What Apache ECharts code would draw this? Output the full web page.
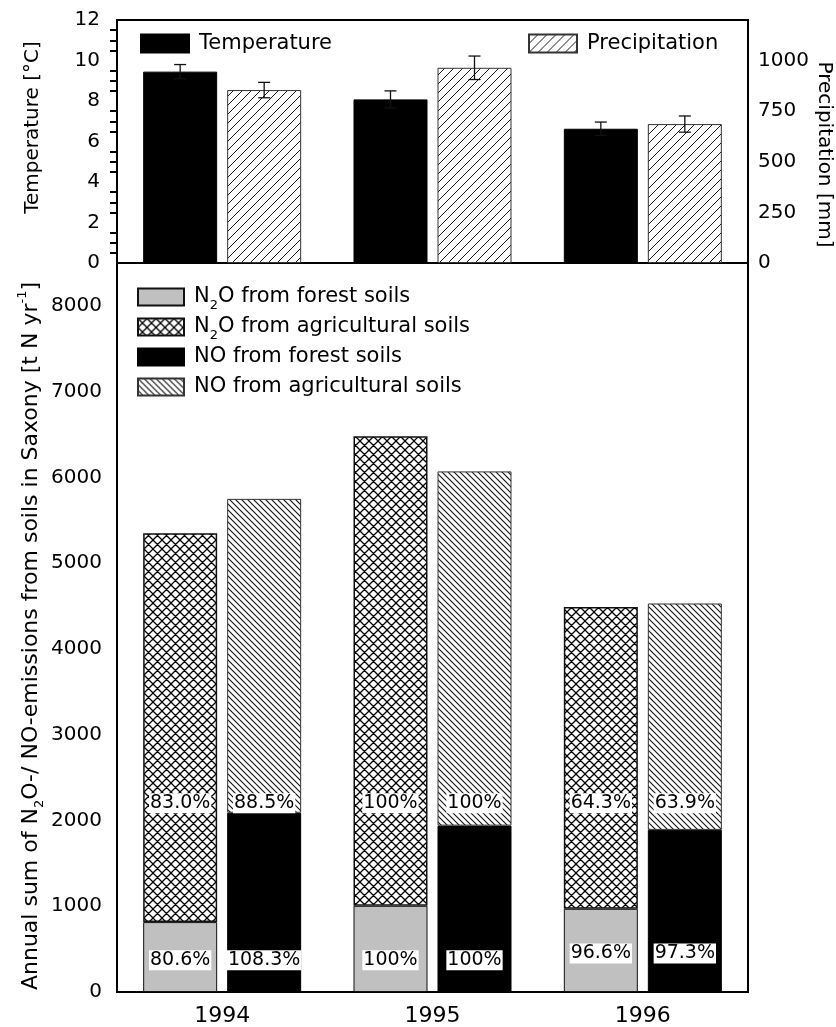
<!DOCTYPE html>
<html>
<head>
<meta charset="utf-8">
<script src="https://cdn.jsdelivr.net/npm/echarts@6/dist/echarts.min.js"></script>
<style>
  html, body { margin: 0; padding: 0; background: #fff; }
  #chart { width: 836px; height: 1027px; }
</style>
</head>
<body>
<div id="chart"></div>
<script>
// ---- data -------------------------------------------------------------
const years = ['1994', '1995', '1996'];

// annual means (climate panel)
const temperature = [9.45, 8.08, 6.63];          // °C
const temperatureErr = [0.35, 0.42, 0.33];
const precipitation = [854, 964, 686];           // mm
const precipitationErr = [38, 58, 40];

// annual emissions, t N per year (stacked segments)
const n2oForest = [815, 1005, 970];
const n2oAgri = [4535, 5475, 3520];
const noForest = [2090, 1940, 1890];
const noAgri = [3660, 4130, 2640];

// percentages printed on the segments
const pctN2oForest = ['80.6%', '100%', '96.6%'];
const pctNoForest = ['108.3%', '100%', '97.3%'];
const pctN2oAgri = ['83.0%', '100%', '64.3%'];
const pctNoAgri = ['88.5%', '100%', '63.9%'];

// ---- layout & style ---------------------------------------------------
const FONT = 'DejaVu Sans';
const BAR_W = 74;
const BAR_GAP = 10;
const SHIFT = (BAR_W + BAR_GAP) / 2;            // bar centre offset from category centre
const LOWER_LEVEL = [370, 370, 450];            // where the lower percentage boxes sit
const UPPER_LEVEL = 2200;                       // where the upper percentage boxes sit
const INK = '#000';

function hatch(step, dirs, lw, stroke) {
  const c = document.createElement('canvas');
  c.width = c.height = step;
  const g = c.getContext('2d');
  g.fillStyle = '#fff';
  g.fillRect(0, 0, step, step);
  g.strokeStyle = stroke;
  g.lineWidth = lw;
  g.beginPath();
  dirs.forEach(d => {
    [-step, 0, step].forEach(o => {
      if (d === '/') { g.moveTo(o - 1, step + 1); g.lineTo(o + step + 1, -1); }
      else { g.moveTo(o - 1, -1); g.lineTo(o + step + 1, step + 1); }
    });
  });
  g.stroke();
  return { image: c, repeat: 'repeat' };
}

const fwdHatch = hatch(9, ['/'], 1, '#1a1a1a');
const crossHatch = hatch(9, ['/', '\\'], 1.3, '#000');
const backHatch = hatch(6, ['\\'], 1.1, '#111');

const sub = { fontSize: 13, lineHeight: 13, verticalAlign: 'bottom', fontFamily: FONT, color: INK };
const sup = { fontSize: 13, lineHeight: 13, verticalAlign: 'top', fontFamily: FONT, color: INK };

function errorBars(vals, errs, yAxisIndex, side) {
  return {
    type: 'custom', xAxisIndex: 0, yAxisIndex, z: 10, silent: true,
    encode: { x: 0, y: [1, 2] },
    data: vals.map((v, i) => [i, v - errs[i], v + errs[i]]),
    renderItem(params, api) {
      const lo = api.coord([api.value(0), api.value(1)]);
      const hi = api.coord([api.value(0), api.value(2)]);
      const x = lo[0] + side * SHIFT;
      const cap = 6;
      const st = { stroke: '#111', lineWidth: 1.3 };
      return {
        type: 'group', children: [
          { type: 'line', shape: { x1: x, y1: lo[1], x2: x, y2: hi[1] }, style: st },
          { type: 'line', shape: { x1: x - cap, y1: hi[1], x2: x + cap, y2: hi[1] }, style: st },
          { type: 'line', shape: { x1: x - cap, y1: lo[1], x2: x + cap, y2: lo[1] }, style: st }
        ]
      };
    }
  };
}

// percentage boxes: one per segment
const pctBoxes = [];
years.forEach((y, i) => {
  pctBoxes.push({ cat: i, side: -1, level: LOWER_LEVEL[i], text: pctN2oForest[i] });
  pctBoxes.push({ cat: i, side: 1, level: LOWER_LEVEL[i], text: pctNoForest[i] });
  pctBoxes.push({ cat: i, side: -1, level: UPPER_LEVEL, text: pctN2oAgri[i] });
  pctBoxes.push({ cat: i, side: 1, level: UPPER_LEVEL, text: pctNoAgri[i] });
});

const tickLine = { color: INK, width: 2 };
const axisLine = { show: true, lineStyle: { color: INK, width: 2 } };
const tickLabel = { color: INK, fontSize: 20, fontFamily: FONT };
const barGap = (BAR_GAP / BAR_W * 100) + '%';

const option = {
  animation: false,
  backgroundColor: '#fff',
  grid: [
    { left: 117, right: 88, top: 20, height: 243, containLabel: false, outerBoundsMode: 'none',
      show: true, borderColor: INK, borderWidth: 2 },
    { left: 117, right: 88, top: 263, height: 729, containLabel: false, outerBoundsMode: 'none',
      show: true, borderColor: INK, borderWidth: 2 }
  ],
  legend: [
    {
      data: ['Temperature'], left: 140, top: 33, padding: 0, icon: 'rect',
      itemWidth: 48, itemHeight: 18, selectedMode: false,
      textStyle: { fontSize: 21, fontFamily: FONT, color: INK, padding: [0, 0, 0, 5] }
    },
    {
      data: ['Precipitation'], left: 528, top: 33, padding: 0, icon: 'rect',
      itemWidth: 48, itemHeight: 18, selectedMode: false,
      textStyle: { fontSize: 21, fontFamily: FONT, color: INK, padding: [0, 0, 0, 5] }
    },
    {
      data: ['N2O from forest soils', 'N2O from agricultural soils', 'NO from forest soils', 'NO from agricultural soils'],
      orient: 'vertical', left: 137, top: 282, padding: 0, icon: 'rect',
      itemWidth: 46, itemHeight: 17, itemGap: 0, selectedMode: false,
      formatter: name => name.replace('N2O', 'N{sub|2}O'),
      textStyle: {
        fontSize: 21, fontFamily: FONT, color: INK, lineHeight: 30, padding: [0, 0, 0, 5],
        rich: { sub }
      }
    }
  ],
  xAxis: [
    { type: 'category', gridIndex: 0, data: years, axisLine, axisTick: { show: false }, axisLabel: { show: false } },
    {
      type: 'category', gridIndex: 1, data: years, axisLine, axisTick: { show: false },
      axisLabel: { color: INK, fontSize: 22, fontFamily: FONT, margin: 13 }
    }
  ],
  yAxis: [
    { // 0: temperature
      type: 'value', gridIndex: 0, position: 'left', min: 0, max: 12, interval: 2,
      axisLine, splitLine: { show: false },
      axisTick: { length: 12, lineStyle: tickLine },
      minorTick: { show: true, splitNumber: 4, length: 7, lineStyle: tickLine },
      axisLabel: Object.assign({ margin: 17 }, tickLabel),
      name: 'Temperature [°C]', nameLocation: 'middle', nameRotate: 90, nameGap: 74,
      nameMoveOverlap: false,
      nameTextStyle: { fontSize: 20, fontFamily: FONT, color: INK, padding: [0, 0, 0, 28] }
    },
    { // 1: precipitation, labelled ticks
      type: 'value', gridIndex: 0, position: 'right', min: 0, max: 1200, interval: 250,
      axisLine, splitLine: { show: false },
      axisTick: { inside: true, length: 12, lineStyle: tickLine },
      axisLabel: Object.assign({ margin: 10, formatter: v => (v % 250 === 0 ? String(v) : '') }, tickLabel),
      name: 'Precipitation [mm]', nameLocation: 'middle', nameRotate: -90, nameGap: 66,
      nameMoveOverlap: false,
      nameTextStyle: { fontSize: 20, fontFamily: FONT, color: INK, padding: [0, 0, 0, 26] }
    },
    { // 2: precipitation, fine ticks
      type: 'value', gridIndex: 0, position: 'right', min: 0, max: 1200, interval: 50,
      axisLine: { show: false }, splitLine: { show: false }, axisLabel: { show: false },
      axisTick: { inside: true, length: 7, lineStyle: tickLine }
    },
    { // 3: emissions, left
      type: 'value', gridIndex: 1, position: 'left', min: 0, max: 8500, interval: 1000,
      axisLine, splitLine: { show: false },
      axisTick: { length: 12, lineStyle: tickLine },
      axisLabel: Object.assign({ margin: 15, formatter: v => (v % 1000 === 0 ? String(v) : '') }, tickLabel),
      name: 'Annual sum of N{sub|2}O-/ NO-emissions from soils in Saxony [t N yr{sup|-1}]',
      nameLocation: 'middle', nameRotate: 90, nameGap: 71, nameMoveOverlap: false,
      nameTextStyle: {
        fontSize: 22, fontFamily: FONT, color: INK, lineHeight: 30, padding: [0, 17, 0, 0],
        rich: { sub, sup }
      }
    },
    { // 4: emissions, left fine ticks
      type: 'value', gridIndex: 1, position: 'left', min: 0, max: 8500, interval: 250,
      axisLine: { show: false }, splitLine: { show: false }, axisLabel: { show: false },
      axisTick: { length: 7, lineStyle: tickLine }
    },
    { // 5: emissions, right mirror
      type: 'value', gridIndex: 1, position: 'right', min: 0, max: 8500, interval: 1000,
      axisLine, splitLine: { show: false }, axisLabel: { show: false },
      axisTick: { inside: true, length: 12, lineStyle: tickLine }
    },
    { // 6: emissions, right fine ticks
      type: 'value', gridIndex: 1, position: 'right', min: 0, max: 8500, interval: 250,
      axisLine: { show: false }, splitLine: { show: false }, axisLabel: { show: false },
      axisTick: { inside: true, length: 7, lineStyle: tickLine }
    }
  ],
  series: [
    {
      name: 'Temperature', type: 'bar', xAxisIndex: 0, yAxisIndex: 0, data: temperature,
      barWidth: BAR_W, barGap,
      itemStyle: { color: '#000', borderColor: '#000', borderWidth: 1 }
    },
    {
      name: 'Precipitation', type: 'bar', xAxisIndex: 0, yAxisIndex: 1, data: precipitation,
      barWidth: BAR_W, barGap,
      itemStyle: { color: fwdHatch, borderColor: '#333', borderWidth: 1 }
    },
    errorBars(temperature, temperatureErr, 0, -1),
    errorBars(precipitation, precipitationErr, 1, 1),
    {
      name: 'N2O from forest soils', type: 'bar', stack: 'n2o', xAxisIndex: 1, yAxisIndex: 3,
      data: n2oForest, barWidth: BAR_W, barGap,
      itemStyle: { color: '#c0c0c0', borderColor: '#111', borderWidth: 1 }
    },
    {
      name: 'N2O from agricultural soils', type: 'bar', stack: 'n2o', xAxisIndex: 1, yAxisIndex: 3,
      data: n2oAgri, barWidth: BAR_W,
      itemStyle: { color: crossHatch, borderColor: '#111', borderWidth: 1.5 }
    },
    {
      name: 'NO from forest soils', type: 'bar', stack: 'no', xAxisIndex: 1, yAxisIndex: 3,
      data: noForest, barWidth: BAR_W,
      itemStyle: { color: '#000', borderColor: '#000', borderWidth: 1 }
    },
    {
      name: 'NO from agricultural soils', type: 'bar', stack: 'no', xAxisIndex: 1, yAxisIndex: 3,
      data: noAgri, barWidth: BAR_W,
      itemStyle: { color: backHatch, borderColor: '#333', borderWidth: 1 }
    },
    {
      type: 'custom', xAxisIndex: 1, yAxisIndex: 3, z: 20, silent: true,
      encode: { x: 0, y: 1 },
      data: pctBoxes.map(b => [b.cat, b.level]),
      renderItem(params, api) {
        const b = pctBoxes[params.dataIndex];
        const p = api.coord([api.value(0), api.value(1)]);
        return {
          type: 'text',
          style: {
            text: b.text, x: p[0] + b.side * SHIFT, y: p[1],
            align: 'center', verticalAlign: 'middle',
            fontSize: 19, fontFamily: FONT, fill: INK,
            backgroundColor: '#fff', padding: [1, 1, 0, 1]
          }
        };
      }
    }
  ]
};

const chart = echarts.init(document.getElementById('chart'), null, { renderer: 'canvas' });
chart.setOption(option);
</script>
</body>
</html>
